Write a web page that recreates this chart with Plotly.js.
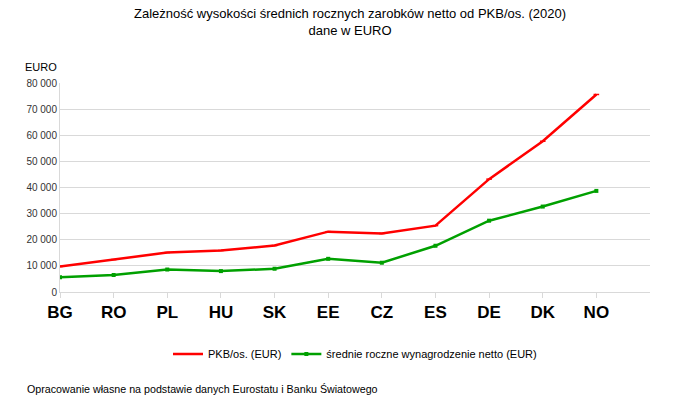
<!DOCTYPE html>
<html><head><meta charset="utf-8">
<script src="https://cdn.plot.ly/plotly-3.0.1.min.js"></script>
<style>html,body{margin:0;padding:0;background:#fff}#c{width:700px;height:398px}</style>
</head><body><div id="c"></div>
<script>
const countries = ["BG","RO","PL","HU","SK","EE","CZ","ES","DE","DK","NO"];
const pkb = [9800,12400,15100,15900,17800,23100,22400,25400,43200,57700,75600];
const wages = [5600,6500,8600,8000,8900,12700,11200,17700,27300,32700,38700];
const yTicks = [0,10000,20000,30000,40000,50000,60000,70000,80000];

const xIdx = countries.map((_, i) => i);
const traces = [
  {x: xIdx, y: pkb, name: "PKB/os. (EUR)", type: "scatter", mode: "lines+markers",
   line: {color: "#ff0000", width: 2.5}, marker: {symbol: "line-ew", size: 4, color: "#ff0000", line: {color: "#ff0000", width: 1.5}}},
  {x: xIdx, y: wages, name: "średnie roczne wynagrodzenie netto (EUR)", type: "scatter", mode: "lines+markers",
   line: {color: "#00a000", width: 2.5}, marker: {symbol: "square", size: 4, color: "#00a000"}}
];
const layout = {
  width: 700, height: 398,
  margin: {l: 60, r: 50, t: 83, b: 106},
  paper_bgcolor: "#fff", plot_bgcolor: "#fff",
  separators: ", ",
  font: {family: "Liberation Sans, Arial, sans-serif", color: "#000"},
  xaxis: {range: [0, 11], tickvals: xIdx, ticktext: countries, showgrid: false, zeroline: false,
          showline: true, linecolor: "#d9d9d9", linewidth: 1, ticks: "outside", ticklen: 5, tickcolor: "#d9d9d9",
          tickfont: {size: 17, color: "#000", family: "Liberation Sans, Arial, sans-serif", weight: "bold"}},
  yaxis: {range: [0, 80000], tickvals: yTicks, tickformat: ",d", showgrid: true, gridcolor: "#d9d9d9", gridwidth: 1,
          zeroline: false, showline: true, linecolor: "#d9d9d9", ticks: "", tickfont: {size: 10, color: "#333"}},
  showlegend: true,
  legend: {orientation: "h", x: 0.5, xanchor: "center", y: -0.297, yanchor: "middle", font: {size: 11, color: "#000"},
           itemwidth: 30},
  annotations: [
    {text: "Zależność wysokości średnich rocznych zarobków netto od PKB/os. (2020)<br>dane w EURO",
     xref: "paper", yref: "paper", x: 0.492, y: 1.29, xanchor: "center", yanchor: "middle",
     showarrow: false, font: {size: 13, color: "#000"}},
    {text: "EURO", xref: "paper", yref: "paper", x: -0.062, y: 1.04, xanchor: "left", yanchor: "bottom",
     showarrow: false, font: {size: 11, color: "#000"}},
    {text: "Opracowanie własne na podstawie danych Eurostatu i Banku Światowego", xref: "paper", yref: "paper",
     x: -0.059, y: -0.465, xanchor: "left", yanchor: "middle", showarrow: false, font: {size: 10.7, color: "#000"}}
  ]
};
Plotly.newPlot("c", traces, layout, {displayModeBar: false, staticPlot: true});
</script></body></html>
